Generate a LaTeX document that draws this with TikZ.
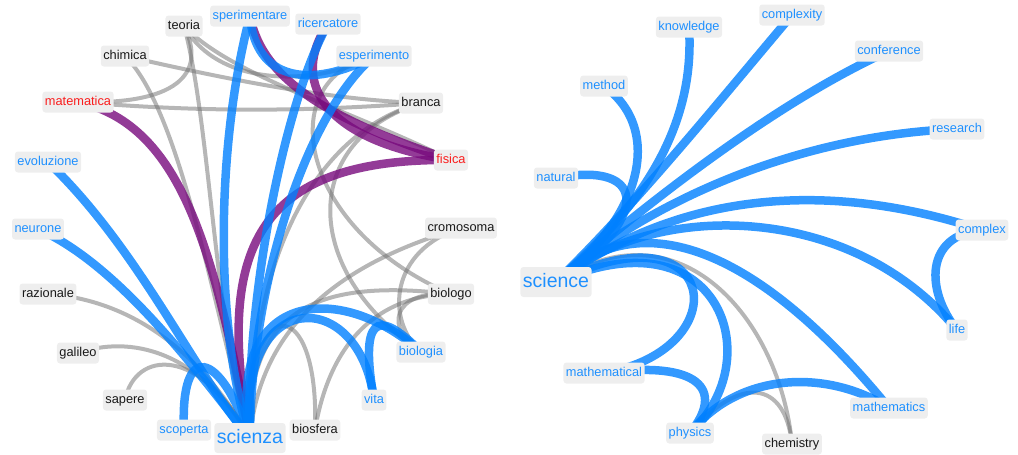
\documentclass[tikz,border=0pt]{standalone}
\usepackage{fontspec}
\setmainfont{Liberation Sans}
\usetikzlibrary{backgrounds}
\definecolor{labbg}{RGB}{238,238,238}
\definecolor{txtblue}{RGB}{30,144,255}
\definecolor{txtblack}{RGB}{25,25,25}
\definecolor{txtred}{RGB}{250,30,30}
\definecolor{eblue}{RGB}{0,128,255}
\definecolor{epurple}{RGB}{120,10,125}
\definecolor{egray}{RGB}{110,110,110}
\begin{document}
\begin{tikzpicture}[x=1pt,y=-1pt,
  lab/.style={fill=labbg, rounded corners=3pt, inner xsep=2.5pt, inner ysep=0pt,
    minimum height=21pt, font=\fontsize{12.8}{13}\selectfont, text height=9.5pt, text depth=2.8pt},
  bl/.style={lab, text=txtblue},
  bk/.style={lab, text=txtblack},
  rd/.style={lab, text=txtred},
  big/.style={font=\fontsize{19.5}{20}\selectfont, minimum height=30pt, text height=14pt, text depth=4pt},
  ebl/.style={draw=eblue, line width=8.5pt, draw opacity=0.8},
  epu/.style={draw=epurple, line width=8.5pt, draw opacity=0.8},
  egr/.style={draw=egray, line width=4pt, draw opacity=0.5}]
\useasboundingbox (0,0) rectangle (1018,455);
% ---------------- left network labels
\node[bk] (T)  at (184,26)  {teoria};
\node[bl] (Sp) at (250,16)  {sperimentare};
\node[bl] (R)  at (328,24)  {ricercatore};
\node[bk] (C)  at (125,56)  {chimica};
\node[bl] (E)  at (374,56)  {esperimento};
\node[rd] (M)  at (78,102)  {matematica};
\node[bk] (B)  at (421,103) {branca};
\node[bl] (Ev) at (48,162)  {evoluzione};
\node[rd] (F)  at (451,160) {fisica};
\node[bl] (N)  at (38,229)  {neurone};
\node[bk] (Cr) at (461,228) {cromosoma};
\node[bk] (Ra) at (48,294)  {razionale};
\node[bk] (Bo) at (451,294) {biologo};
\node[bk] (G)  at (78,353)  {galileo};
\node[bl] (Bi) at (421,352) {biologia};
\node[bk] (Sa) at (125,400) {sapere};
\node[bl] (V)  at (374,400) {vita};
\node[bl] (Sc) at (184,430) {scoperta};
\node[bl,big] (S) at (250,438) {scienza};
\node[bk] (Bf) at (315,430) {biosfera};
% ---------------- right network labels
\node[bl] (K)  at (689,27)  {knowledge};
\node[bl] (Cx) at (792,15)  {complexity};
\node[bl] (Me) at (604,86)  {method};
\node[bl] (Co) at (889,51)  {conference};
\node[bl] (Re) at (957,129) {research};
\node[bl] (Na) at (556,178) {natural};
\node[bl] (Cp) at (982,230) {complex};
\node[bl,big] (Sci) at (556,282) {science};
\node[bl] (L)  at (957,330) {life};
\node[bl] (Ml) at (604,373) {mathematical};
\node[bl] (Ms) at (889,408) {mathematics};
\node[bl] (Ph) at (690,433) {physics};
\node[bk] (Ch) at (792,444) {chemistry};
\begin{scope}[on background layer]
% ---- left gray edges
\draw[egr] (T.center) .. controls (210,120) and (215,330) .. (S.center);
\draw[egr] (C.center) .. controls (180,110) and (212,300) .. (S.center);
\draw[egr] (M.center) .. controls (175,105) and (208,75) .. (T.center);
\draw[egr] (M.center) .. controls (200,112) and (300,112) .. (B.center);
\draw[egr] (C.center) .. controls (230,80) and (330,100) .. (B.center);
\draw[egr] (T.center) .. controls (230,75) and (350,110) .. (F.center);
\draw[egr] (T.center) .. controls (220,90) and (320,85) .. (E.center);
\draw[egr] (B.center) .. controls (320,130) and (250,250) .. (S.center);
\draw[egr] (B.center) .. controls (300,140) and (300,270) .. (Bi.center);
\draw[egr] (E.center) .. controls (270,80) and (300,230) .. (Bo.center);
\draw[egr] (Cr.center) .. controls (350,260) and (260,320) .. (S.center);
\draw[egr] (Cr.center) .. controls (390,250) and (385,320) .. (Bi.center);
\draw[egr] (Bo.center) .. controls (330,280) and (245,300) .. (S.center);
\draw[egr] (Bo.center) .. controls (390,290) and (385,330) .. (Bi.center);
\draw[egr] (Bf.center) .. controls (320,290) and (245,290) .. (S.center);
\draw[egr] (Bf.center) .. controls (330,340) and (380,295) .. (Bo.center);
\draw[egr] (Ra.center) .. controls (130,300) and (200,350) .. (S.center);
\draw[egr] (G.center) .. controls (130,335) and (200,350) .. (S.center);
\draw[egr] (Sa.center) .. controls (135,350) and (200,345) .. (S.center);
% ---- left purple edges
\draw[epu] (M.center) .. controls (185,125) and (215,260) .. (S.center);
\draw[epu] (F.center) .. controls (255,158) and (215,250) .. (S.center);
\draw[epu] (Sp.center) .. controls (262,80) and (330,120) .. (F.center);
\draw[epu] (R.center) .. controls (290,80) and (320,140) .. (F.center);
% ---- left blue edges
\draw[ebl] (Sp.center) .. controls (215,150) and (215,330) .. (S.center);
\draw[ebl] (R.center) .. controls (285,100) and (245,300) .. (S.center);
\draw[ebl] (E.center) .. controls (300,120) and (250,300) .. (S.center);
\draw[ebl] (Sp.center) .. controls (255,80) and (310,90) .. (E.center);
\draw[ebl] (Ev.center) .. controls (140,250) and (195,375) .. (S.center);
\draw[ebl] (N.center) .. controls (120,265) and (200,375) .. (S.center);
\draw[ebl] (Sc.center) .. controls (180,340) and (220,350) .. (S.center);
\draw[ebl] (S.center) .. controls (225,290) and (340,280) .. (Bi.center);
\draw[ebl] (S.center) .. controls (235,285) and (360,285) .. (V.center);
\draw[ebl] (V.center) .. controls (360,320) and (375,305) .. (Bi.center);
% ---- right edges
\draw[egr] (Sci.center) .. controls (680,200) and (780,320) .. (Ch.center);
\draw[egr] (Ph.center) .. controls (740,375) and (785,380) .. (Ch.center);
\draw[ebl] (Na.center) .. controls (650,160) and (650,220) .. (Sci.center);
\draw[ebl] (Me.center) .. controls (665,130) and (640,220) .. (Sci.center);
\draw[ebl] (K.center) .. controls (695,120) and (650,200) .. (Sci.center);
\draw[ebl] (Cx.center) .. controls (720,100) and (640,200) .. (Sci.center);
\draw[ebl] (Co.center) .. controls (780,100) and (650,200) .. (Sci.center);
\draw[ebl] (Re.center) .. controls (800,135) and (650,200) .. (Sci.center);
\draw[ebl] (Cp.center) .. controls (830,180) and (680,190) .. (Sci.center);
\draw[ebl] (Sci.center) .. controls (650,200) and (850,200) .. (L.center);
\draw[ebl] (Cp.center) .. controls (925,235) and (925,290) .. (L.center);
\draw[ebl] (Sci.center) .. controls (640,200) and (760,250) .. (Ms.center);
\draw[ebl] (Sci.center) .. controls (720,210) and (770,360) .. (Ph.center);
\draw[ebl] (Sci.center) .. controls (720,200) and (740,350) .. (Ml.center);
\draw[ebl] (Ml.center) .. controls (700,360) and (725,390) .. (Ph.center);
\draw[ebl] (Ph.center) .. controls (740,370) and (830,370) .. (Ms.center);
\end{scope}
\end{tikzpicture}
\end{document}
